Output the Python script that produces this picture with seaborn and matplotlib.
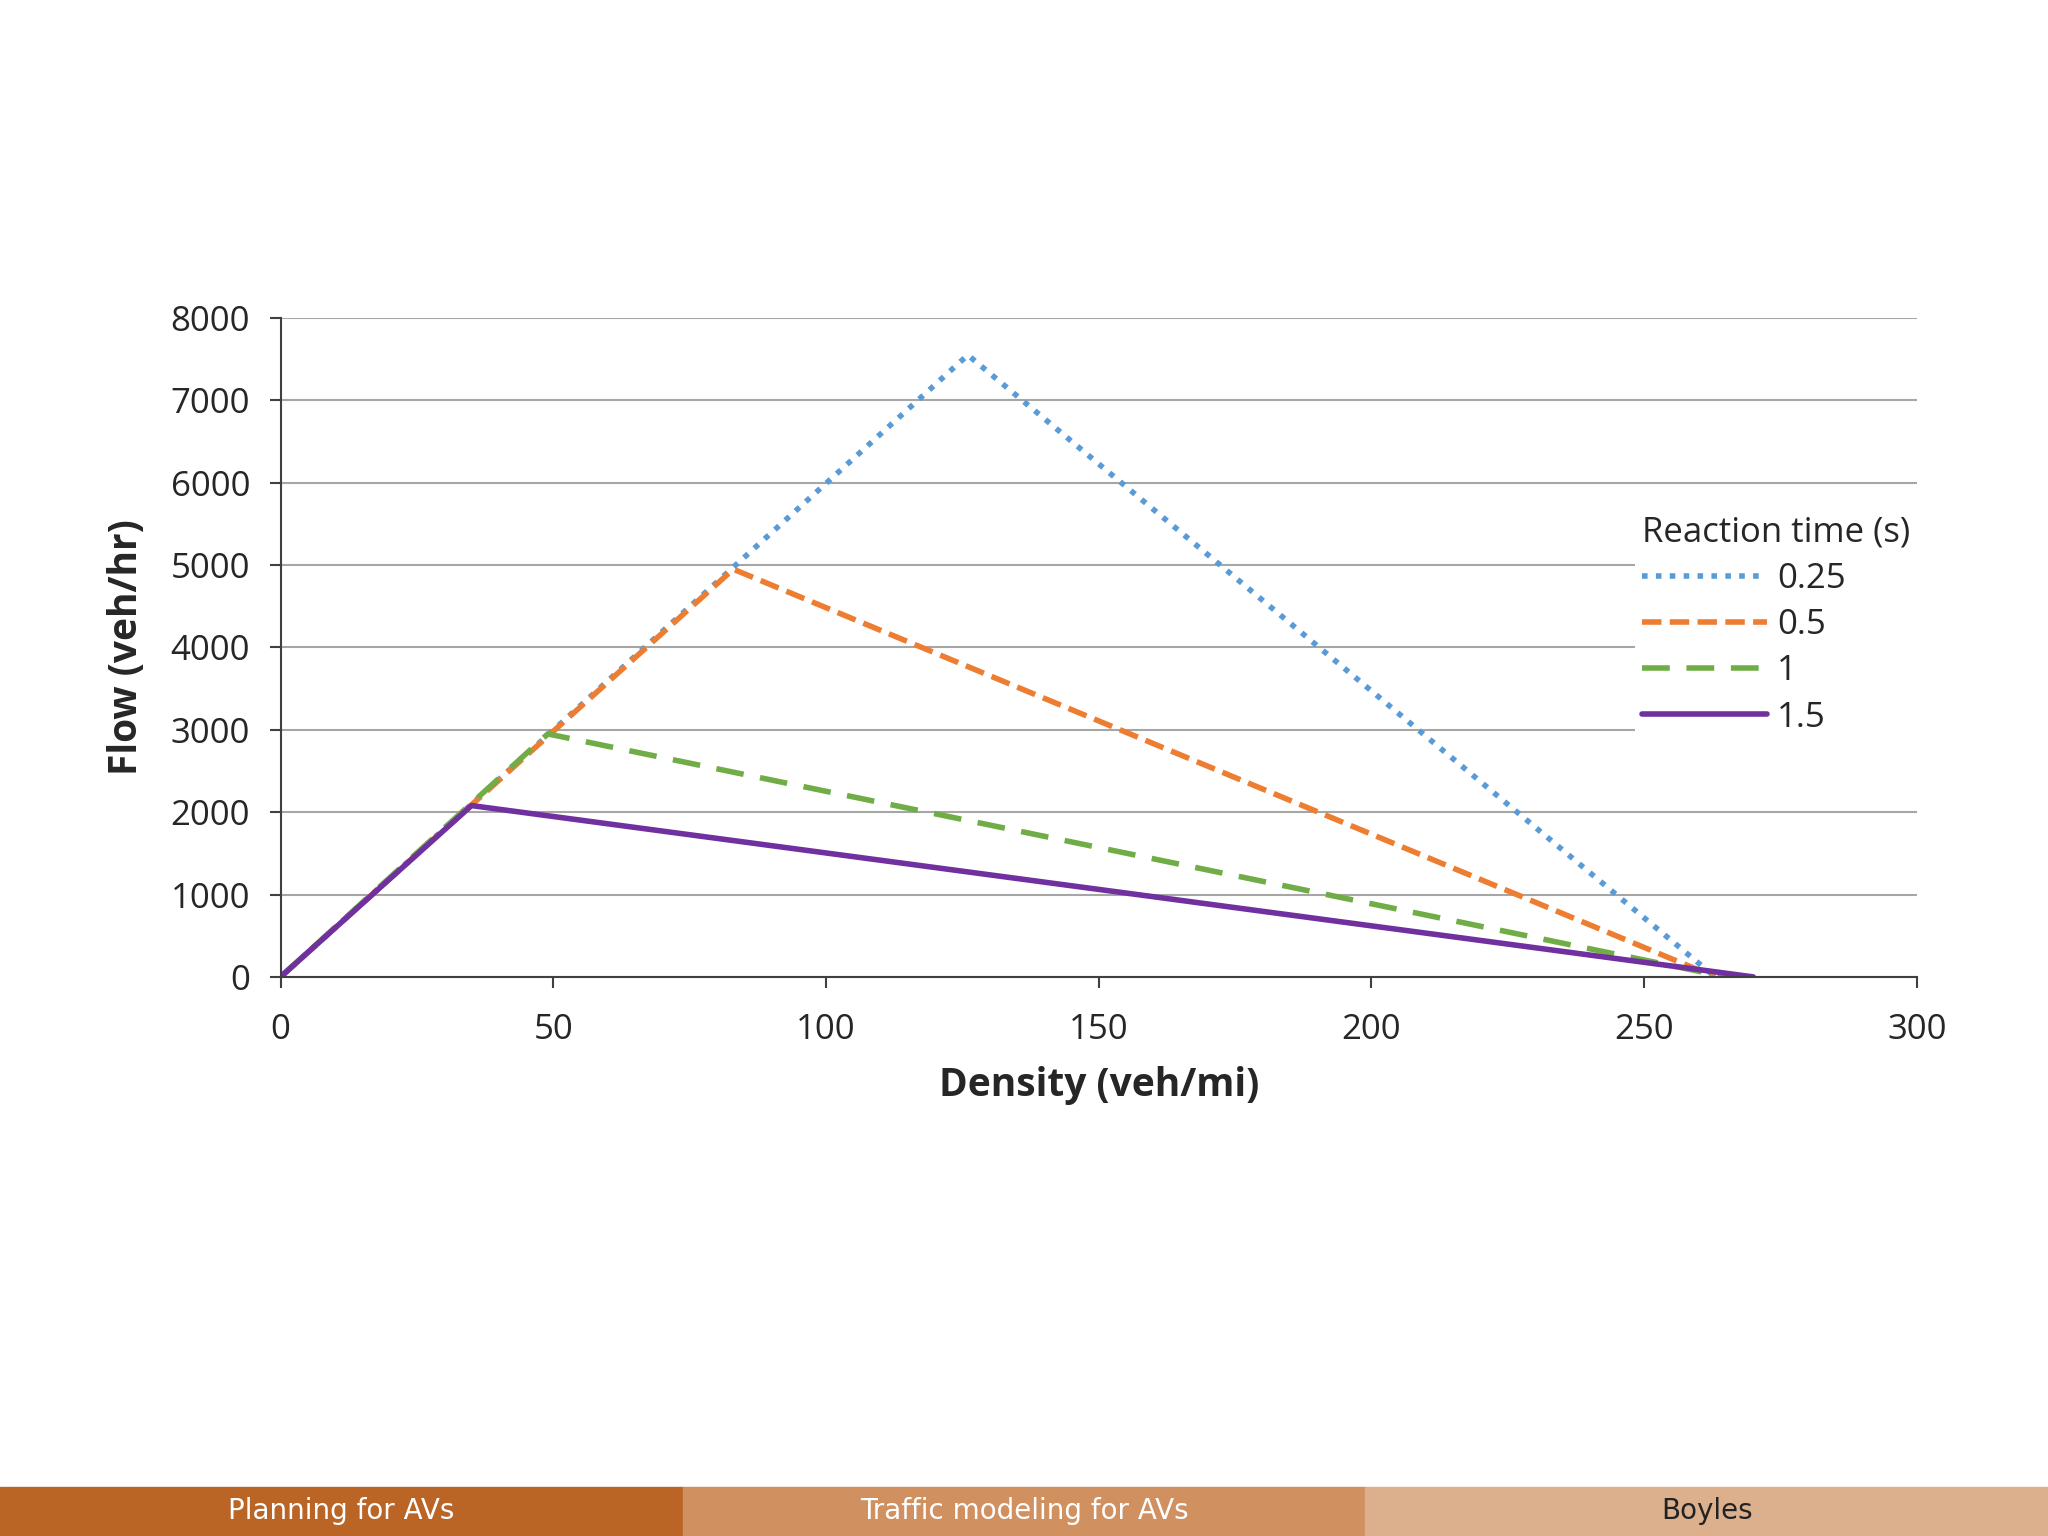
import matplotlib
matplotlib.use("Agg")
import matplotlib.pyplot as plt
import matplotlib.patches as mpatches
import seaborn as sns
import pandas as pd

# data
reaction_times = ["0.25", "0.5", "1", "1.5"]
density_pts = {
    "0.25": [0, 126, 263],
    "0.5": [0, 83, 263],
    "1": [0, 49, 265],
    "1.5": [0, 35, 270],
}
flow_pts = {
    "0.25": [0, 7550, 0],
    "0.5": [0, 4950, 0],
    "1": [0, 2950, 0],
    "1.5": [0, 2080, 0],
}
colors = {"0.25": "#5B9BD5", "0.5": "#ED7D31", "1": "#70AD47", "1.5": "#7030A0"}
dashes = {"0.25": (1, 1.5), "0.5": (3.5, 1.5), "1": (5, 3), "1.5": ""}
footer_labels = ["Planning for AVs", "Traffic modeling for AVs", "Boyles"]
footer_colors = ["#BA6426", "#D09060", "#DDB08D"]
footer_text_colors = ["white", "white", "#222222"]

rows = []
for rt in reaction_times:
    for d, f in zip(density_pts[rt], flow_pts[rt]):
        rows.append({"Density": d, "Flow": f, "Reaction time (s)": rt})
df = pd.DataFrame(rows)

sns.set_style("white")
plt.rcParams['font.family'] = ['Open Sans', 'DejaVu Sans']

fig = plt.figure(figsize=(20.48, 15.36), dpi=100)
ax = fig.add_axes([0.137, 0.364, 0.799, 0.429])

sns.lineplot(data=df, x="Density", y="Flow", hue="Reaction time (s)",
             style="Reaction time (s)", palette=colors, dashes=dashes,
             linewidth=4, ax=ax, sort=False, estimator=None)

ax.set_xlim(0, 300)
ax.set_ylim(0, 8000)
ax.set_xticks(range(0, 301, 50))
ax.set_yticks(range(0, 8001, 1000))
ax.yaxis.grid(True, color="#A6A6A6", linewidth=1.5)
ax.set_axisbelow(True)
for s in ["top", "right"]:
    ax.spines[s].set_visible(False)
for s in ["left", "bottom"]:
    ax.spines[s].set_color("#404040")
    ax.spines[s].set_linewidth(1.5)
ax.tick_params(axis="both", labelsize=25, direction="out", length=8,
               width=1.5, color="#404040", left=True, bottom=True)
ax.tick_params(axis="x", pad=18)
ax.tick_params(axis="y", pad=14)
ax.set_xlabel("Density (veh/mi)", fontsize=28, fontweight="bold", labelpad=14)
ax.set_ylabel("Flow (veh/hr)", fontsize=28, fontweight="bold", labelpad=18)

leg = ax.legend(title="Reaction time (s)", loc="upper right",
                bbox_to_anchor=(1.0, 0.71), fontsize=25, title_fontsize=25,
                frameon=True, facecolor="white", edgecolor="white",
                framealpha=1, handlelength=3.6, handletextpad=0.3,
                labelspacing=0.35, borderpad=0.2, borderaxespad=0)
leg._legend_box.align = "left"
leg.get_frame().set_linewidth(0)

# footer bar
for i, (lab, c, tc) in enumerate(zip(footer_labels, footer_colors, footer_text_colors)):
    fig.patches.append(mpatches.Rectangle((i / 3, 0), 1 / 3, 0.032,
                                          transform=fig.transFigure,
                                          color=c, zorder=0))
    fig.text(i / 3 + 1 / 6, 0.016, lab, ha="center", va="center",
             fontsize=20, color=tc, family="DejaVu Sans")

fig.savefig("out.png", dpi=100)
